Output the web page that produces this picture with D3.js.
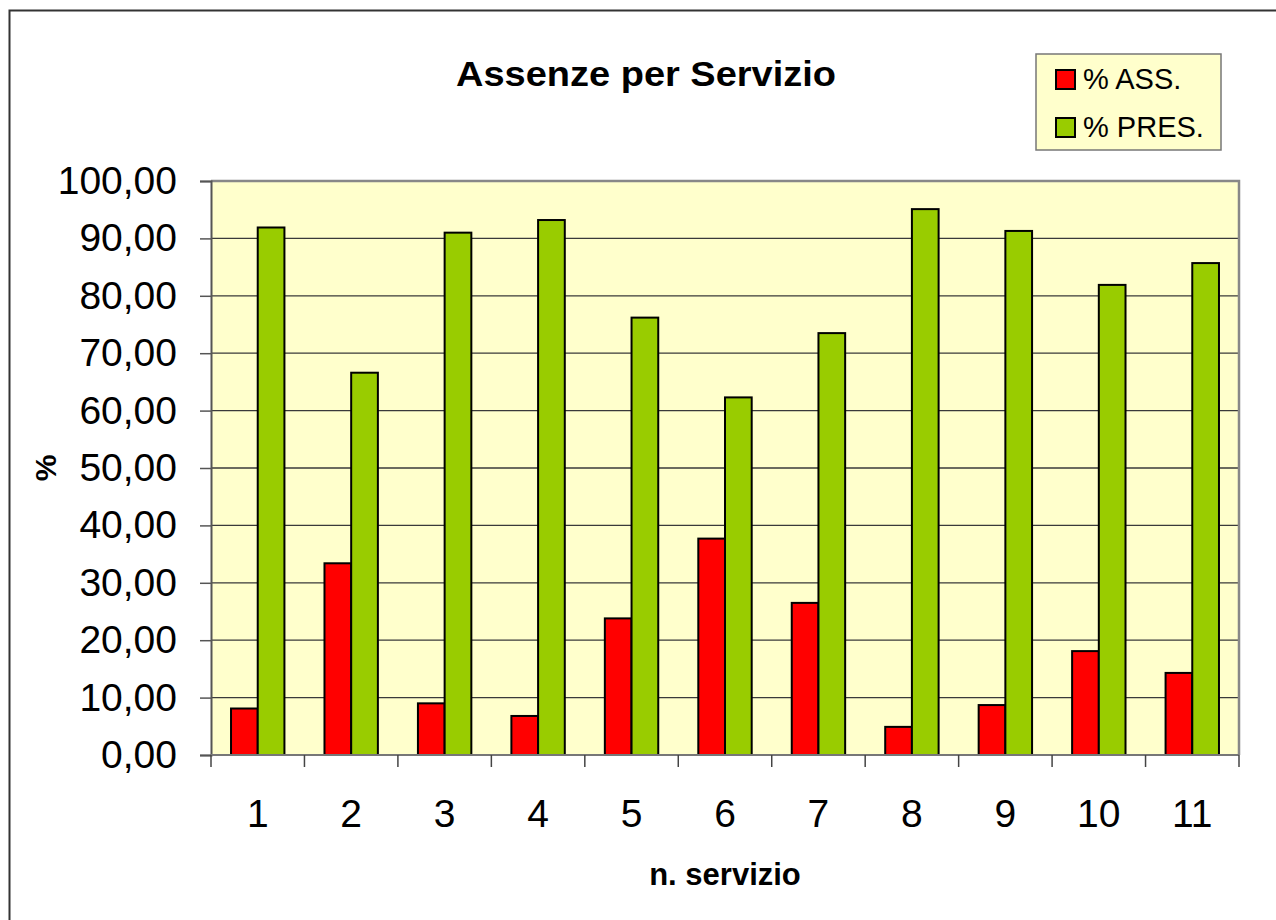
<!DOCTYPE html>
<html>
<head>
<meta charset="utf-8">
<script src="https://cdn.jsdelivr.net/npm/d3@7"></script>
<style>
  body { margin: 0; background: #fff; }
  svg { display: block; font-family: "Liberation Sans", Arial, sans-serif; }
</style>
</head>
<body>
<svg id="chart" width="1276" height="920"></svg>
<script>
// Assenze per Servizio
const servizi = ["1", "2", "3", "4", "5", "6", "7", "8", "9", "10", "11"];
const seriesNames = ["% ASS.", "% PRES."];
const assenze = [8.1, 33.4, 9.0, 6.8, 23.8, 37.7, 26.5, 4.9, 8.7, 18.1, 14.3];
const presenze = [91.9, 66.6, 91.0, 93.2, 76.2, 62.3, 73.5, 95.1, 91.3, 81.9, 85.7];
const yTicks = [0, 10, 20, 30, 40, 50, 60, 70, 80, 90, 100];
const colors = ["#ff0000", "#99cc00"];

const data = servizi.map((s, i) => ({ servizio: s, values: [assenze[i], presenze[i]] }));

const svg = d3.select("#chart");
const margin = { top: 181, right: 37, bottom: 165, left: 211 };
const width = 1276 - margin.left - margin.right;
const height = 920 - margin.top - margin.bottom;

// outer chart border (runs off the right and bottom edge)
svg.append("rect")
  .attr("x", 9.5).attr("y", 10.5)
  .attr("width", 1300).attr("height", 940)
  .attr("fill", "#fff")
  .attr("stroke", "#333")
  .attr("stroke-width", 2);

const locale = d3.formatLocale({ decimal: ",", thousands: ".", grouping: [3], currency: ["", "€"] });
const fmt = locale.format(".2f");

const x0 = d3.scaleBand().domain(servizi).range([0, width]).padding(0);
const x1 = d3.scaleBand().domain([0, 1]).range([0, x0.bandwidth()]).paddingInner(0).paddingOuter(0.75);
const y = d3.scaleLinear().domain([0, 100]).range([height, 0]);

const g = svg.append("g").attr("transform", `translate(${margin.left},${margin.top})`);

g.append("rect")
  .attr("width", width).attr("height", height)
  .attr("fill", "#ffffcc");

// gridlines
g.append("g")
  .selectAll("line")
  .data(yTicks.slice(1, -1))
  .join("line")
  .attr("x1", 0).attr("x2", width)
  .attr("y1", d => y(d)).attr("y2", d => y(d))
  .attr("stroke", "#3a3a3a")
  .attr("stroke-width", 1.3);

// plot border top / right
g.append("path")
  .attr("d", `M0,0H${width}V${height}`)
  .attr("fill", "none")
  .attr("stroke", "#888")
  .attr("stroke-width", 2.5);

// bars
const groups = g.append("g")
  .selectAll("g")
  .data(data)
  .join("g")
  .attr("transform", d => `translate(${x0(d.servizio)},0)`);

groups.selectAll("rect")
  .data(d => d.values.map((v, k) => ({ k, v })))
  .join("rect")
  .attr("x", d => x1(d.k))
  .attr("width", x1.bandwidth())
  .attr("y", d => y(d.v))
  .attr("height", d => height - y(d.v))
  .attr("fill", d => colors[d.k])
  .attr("stroke", "#000")
  .attr("stroke-width", 2);

// y axis
const yAxis = g.append("g")
  .call(d3.axisLeft(y).tickValues(yTicks).tickFormat(fmt).tickSize(11).tickPadding(23));
yAxis.select(".domain").attr("stroke", "#555").attr("stroke-width", 2);
yAxis.selectAll(".tick line").attr("stroke", "#555").attr("stroke-width", 1.5);
yAxis.selectAll("text")
  .attr("font-size", 39)
  .attr("font-family", "Liberation Sans, Arial, sans-serif")
  .attr("fill", "#000");

// x axis: line, boundary ticks, centred labels
const xAxis = g.append("g").attr("transform", `translate(0,${height})`);
xAxis.append("line")
  .attr("x1", 0).attr("x2", width)
  .attr("stroke", "#777").attr("stroke-width", 2);
const bounds = servizi.map(s => x0(s)).concat([width]);
xAxis.selectAll("line.tk")
  .data(bounds)
  .join("line")
  .attr("class", "tk")
  .attr("x1", d => d).attr("x2", d => d)
  .attr("y1", 0).attr("y2", 12)
  .attr("stroke", "#444").attr("stroke-width", 1.5);
xAxis.selectAll("text")
  .data(servizi)
  .join("text")
  .attr("x", d => x0(d) + x0.bandwidth() / 2)
  .attr("y", 72)
  .attr("text-anchor", "middle")
  .attr("font-size", 39)
  .text(d => d);

// titles
svg.append("text")
  .attr("x", 646).attr("y", 86)
  .attr("text-anchor", "middle")
  .attr("font-size", 35)
  .attr("font-weight", "bold")
  .attr("textLength", 380)
  .attr("lengthAdjust", "spacingAndGlyphs")
  .text("Assenze per Servizio");

svg.append("text")
  .attr("x", margin.left + width / 2).attr("y", 885)
  .attr("text-anchor", "middle")
  .attr("font-size", 31)
  .attr("font-weight", "bold")
  .text("n. servizio");

svg.append("text")
  .attr("transform", `translate(56,${margin.top + height / 2}) rotate(-90)`)
  .attr("text-anchor", "middle")
  .attr("font-size", 30)
  .attr("font-weight", "bold")
  .text("%");

// legend
const legend = svg.append("g").attr("transform", "translate(1036,54)");
legend.append("rect")
  .attr("width", 185).attr("height", 96)
  .attr("fill", "#ffffcc")
  .attr("stroke", "#777").attr("stroke-width", 1.5);
const items = legend.selectAll("g")
  .data(seriesNames)
  .join("g")
  .attr("transform", (d, i) => `translate(20,${16 + i * 48})`);
items.append("rect")
  .attr("width", 19).attr("height", 19)
  .attr("fill", (d, i) => colors[i])
  .attr("stroke", "#000").attr("stroke-width", 2);
items.append("text")
  .attr("x", 27).attr("y", 19)
  .attr("font-size", 29)
  .text(d => d);
</script>
</body>
</html>
